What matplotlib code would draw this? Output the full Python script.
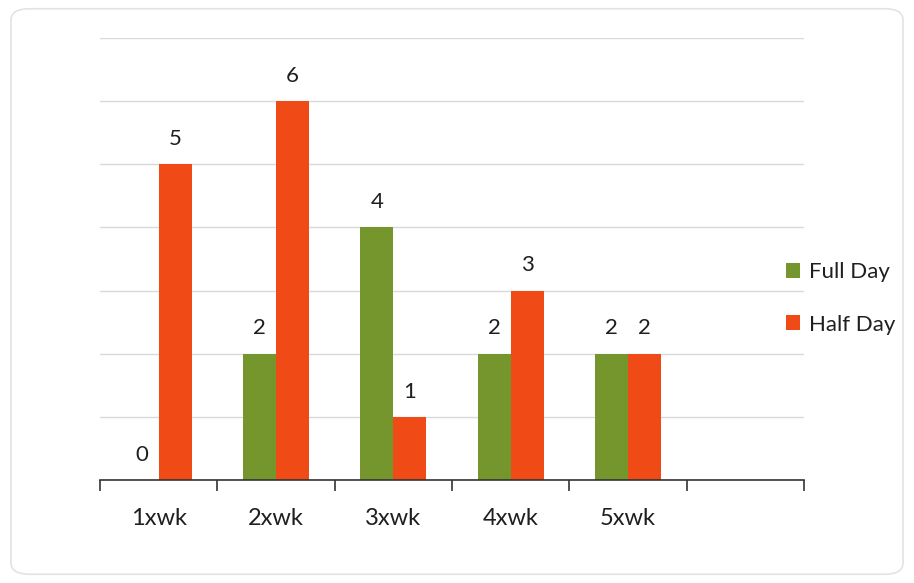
import numpy as np
import matplotlib.pyplot as plt
from matplotlib.patches import FancyBboxPatch

plt.rcParams['font.family'] = ['Lato', 'DejaVu Sans']

categories = ['1xwk', '2xwk', '3xwk', '4xwk', '5xwk', '']
full_day = [0, 2, 4, 2, 2]
half_day = [5, 6, 1, 3, 2]

green = '#74962d'
orange = '#f04b17'
text_col = '#1f1f1f'

fig = plt.figure(figsize=(9.14, 5.83), dpi=100)

# light rounded frame around the whole chart
frame = FancyBboxPatch((0.012, 0.015), 0.976, 0.97, boxstyle='round,pad=0,rounding_size=0.02',
                       transform=fig.transFigure, fill=False, edgecolor='#e3e3e3', linewidth=1.2)
fig.patches.append(frame)

ax = fig.add_axes([0.1094, 0.1767, 0.7703, 0.7581])

x = np.arange(len(full_day))
w = 0.28
b1 = ax.bar(x - w / 2, full_day, w, color=green, label='Full Day', zorder=2)
b2 = ax.bar(x + w / 2, half_day, w, color=orange, label='Half Day', zorder=2)

for bars, vals in [(b1, full_day), (b2, half_day)]:
    for r, v in zip(bars, vals):
        ax.annotate(str(v), (r.get_x() + r.get_width() / 2, v), xytext=(0, 11),
                    textcoords='offset points', ha='center', va='bottom',
                    fontsize=16, color=text_col)

ax.set_xlim(-0.5, len(categories) - 0.5)
ax.set_ylim(0, 7)
ax.set_yticks(range(0, 8))
ax.yaxis.grid(True, color='#d9d9d9', linewidth=1, zorder=0)
ax.tick_params(axis='y', length=0, labelleft=False)

ax.set_xticks(np.arange(-0.5, len(categories)))
ax.set_xticklabels([])
ax.tick_params(axis='x', which='major', direction='out', length=8, width=1.2, color='#333333')
ax.set_xticks(np.arange(len(categories)), minor=True)
ax.set_xticklabels(categories, minor=True, fontsize=17, color=text_col)
ax.tick_params(axis='x', which='minor', length=0, pad=20)

for s in ['top', 'right', 'left']:
    ax.spines[s].set_visible(False)
ax.spines['bottom'].set_color('#333333')
ax.spines['bottom'].set_linewidth(1.2)
ax.set_axisbelow(True)

fig.legend(handles=[b1, b2], loc='center left', bbox_to_anchor=(0.838, 0.488),
           frameon=False, fontsize=16, handlelength=0.65, handleheight=0.65,
           handletextpad=0.4, labelspacing=1.45, labelcolor=text_col)

fig.savefig('out.png', dpi=100)
